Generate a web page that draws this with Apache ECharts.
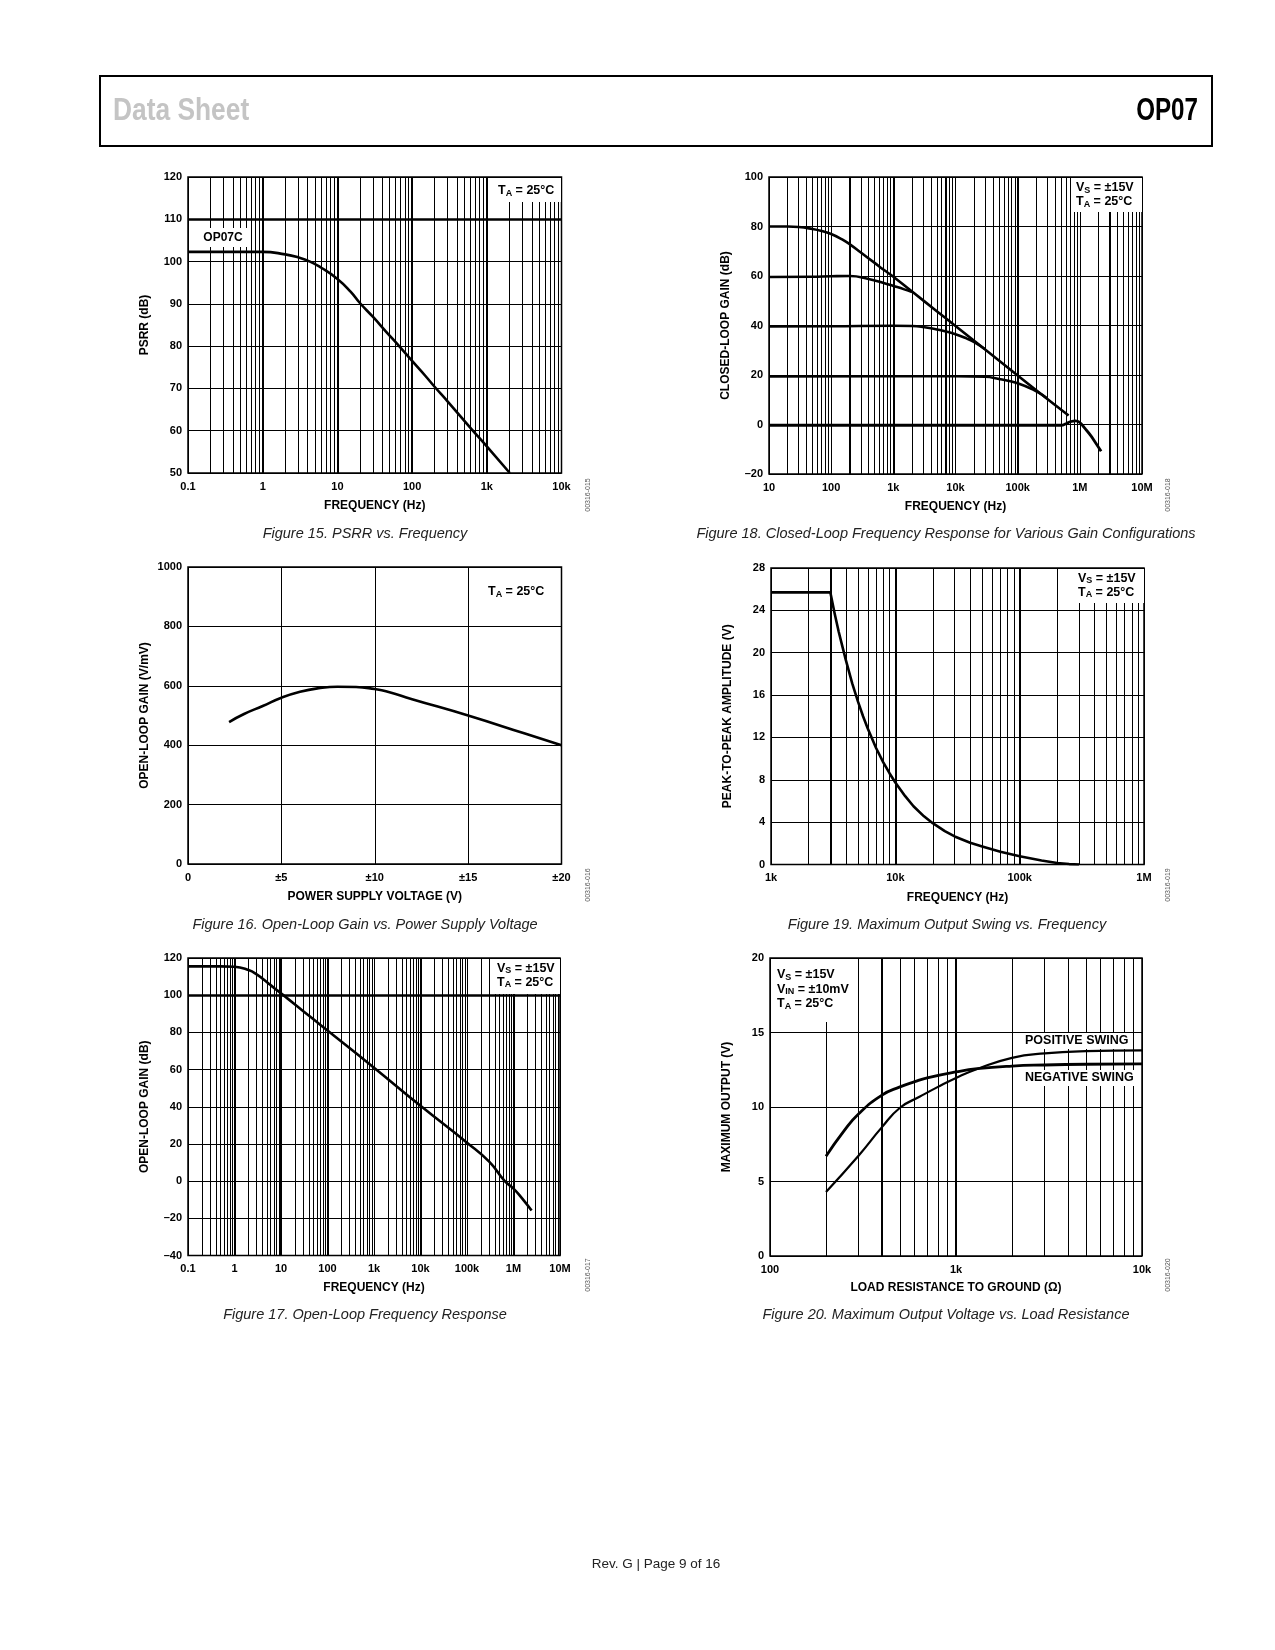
<!DOCTYPE html>
<html><head><meta charset="utf-8">
<script src="https://cdn.jsdelivr.net/npm/echarts@6/dist/echarts.min.js"></script>
<style>html,body{margin:0;padding:0;background:#fff}#c{width:1275px;height:1650px}</style>
</head><body><div id="c"></div>
<script>
// ---------- DATA ----------
// Figure 15: PSRR vs Frequency
const psrrFreq = [0.1, 0.5, 1, 2, 3, 4.3, 6, 10, 15, 20, 30, 45, 68, 100, 150, 200, 300, 624, 1000, 2032];
const psrrDb   = [102.3, 102.3, 102.3, 101.7, 101, 100, 98.6, 95.9, 92.9, 90.2, 86.9, 83.4, 79.9, 76.5, 73, 70.4, 66.9, 60.4, 56.3, 50];
const psrrXLabels = ['0.1', '1', '10', '100', '1k', '10k'];
const psrrYLabels = ['50', '60', '70', '80', '90', '100', '110', '120'];

// Figure 18: Closed-loop gain
const cl80Freq = [10, 20, 30, 50, 70, 100, 150, 200, 300, 500, 700, 1000, 2000, 5000, 10000, 30000, 100000, 300000, 660000];
const cl80Db   = [80, 80, 79.8, 79, 78.2, 77, 74.8, 72.8, 69.5, 65.3, 62.5, 59.7, 53.7, 45.8, 39.8, 30.3, 19.8, 10.3, 3.6];
const cl60Freq = [10, 50, 100, 200, 400, 700, 1000, 1500, 2000];
const cl60Db   = [59.6, 59.7, 59.9, 60, 58.8, 57.2, 56, 54.6, 53.5];
const cl40Freq = [10, 100, 1000, 2000, 3000, 5000, 7000, 10000, 15000, 20000, 30000];
const cl40Db   = [39.6, 39.7, 39.9, 39.8, 39.4, 38.4, 37.6, 36.5, 34.8, 33.3, 30.4];
const cl20Freq = [10, 1000, 10000, 30000, 50000, 100000, 200000, 300000];
const cl20Db   = [19.4, 19.5, 19.5, 19.3, 18.4, 16.7, 13.4, 10.5];
const cl0Freq  = [10, 1000, 100000, 500000, 600000, 700000, 850000, 1000000, 1200000, 1500000, 1800000, 2200000];
const cl0Db    = [-0.3, -0.3, -0.3, -0.3, 0.3, 1.1, 1.5, 0.8, -1.5, -4.5, -7.5, -10.8];
const clXLabels = ['10', '100', '1k', '10k', '100k', '1M', '10M'];
const clYLabels = ['\u201320', '0', '20', '40', '60', '80', '100'];

// Figure 16: Open-loop gain vs supply voltage
const olvVolt = [2.2, 3, 4, 5, 6, 7, 8, 9, 10, 10.6, 12, 15, 18, 20];
const olvGain = [478, 505, 532, 560, 580, 592, 597, 596, 589, 582, 555, 500, 440, 400];
const olvXLabels = ['0', '\u00b15', '\u00b110', '\u00b115', '\u00b120'];
const olvYLabels = ['0', '200', '400', '600', '800', '1000'];

// Figure 19: Maximum output swing vs frequency
const swFreq = [1000, 2000, 3000, 3250, 3500, 3750, 4000, 4500, 5000, 5500, 6000, 7000, 8000, 9000, 10000, 12000, 14000, 17000, 20000, 25000, 30000, 40000, 50000, 70000, 100000, 150000, 200000, 250000, 300000];
const swVpp  = [25.7, 25.7, 25.7, 23.7, 22.0, 20.6, 19.3, 17.1, 15.4, 14.0, 12.85, 11.0, 9.65, 8.6, 7.75, 6.45, 5.5, 4.55, 3.9, 3.15, 2.65, 2.05, 1.7, 1.2, 0.78, 0.38, 0.14, 0.04, 0];
const swXLabels = ['1k', '10k', '100k', '1M'];
const swYLabels = ['0', '4', '8', '12', '16', '20', '24', '28'];

// Figure 17: Open-loop frequency response
const olFreq = [0.1, 0.5, 1, 2, 3, 5, 7, 10, 20, 50, 100, 1000, 10000, 100000, 300000, 650000, 1000000, 1500000, 2450000];
const olDb   = [115.5, 115.5, 115.3, 113.5, 111.2, 107, 104, 101, 95, 87, 81, 61, 40.5, 20.7, 10.5, 0, -4, -9, -15.8];
const olXLabels = ['0.1', '1', '10', '100', '1k', '10k', '100k', '1M', '10M'];
const olYLabels = ['\u201340', '\u201320', '0', '20', '40', '60', '80', '100', '120'];

// Figure 20: Maximum output voltage vs load resistance
const negLoad = [200, 250, 300, 400, 500, 600, 700, 1000, 1300, 2000, 3000, 5000, 10000];
const negSwing = [6.7, 8.4, 9.55, 10.8, 11.35, 11.7, 11.95, 12.35, 12.57, 12.75, 12.82, 12.87, 12.9];
const posLoad = [200, 300, 400, 500, 640, 800, 1000, 1300, 2000, 3000, 5000, 10000];
const posSwing = [4.3, 6.75, 8.65, 9.95, 10.7, 11.35, 11.95, 12.55, 13.3, 13.6, 13.75, 13.8];
const rlXLabels = ['100', '1k', '10k'];
const rlYLabels = ['0', '5', '10', '15', '20'];

const captions = [
  'Figure 15. PSRR vs. Frequency',
  'Figure 18. Closed-Loop Frequency Response for Various Gain Configurations',
  'Figure 16. Open-Loop Gain vs. Power Supply Voltage',
  'Figure 19. Maximum Output Swing vs. Frequency',
  'Figure 17. Open-Loop Frequency Response',
  'Figure 20. Maximum Output Voltage vs. Load Resistance'
];
const figIds = ['00316-015', '00316-018', '00316-016', '00316-019', '00316-017', '00316-020'];

// ---------- BUILD ----------
const F = '"Liberation Sans", Arial, Helvetica, sans-serif';
const grids = [
  {left: 188, top: 177, width: 373.5, height: 296},
  {left: 769, top: 177, width: 373, height: 297},
  {left: 188, top: 567, width: 373.5, height: 297},
  {left: 771, top: 568, width: 373, height: 296.5},
  {left: 188, top: 958, width: 372, height: 297.5},
  {left: 770, top: 958, width: 372, height: 298}
].map(g => Object.assign({show: true, borderColor: '#000', borderWidth: 1.5, backgroundColor: 'transparent'}, g));

function baseAxis(gi, name, gap) {
  return {
    gridIndex: gi, name: name, nameLocation: 'middle', nameGap: gap,
    axisLine: {show: false, onZero: false}, axisTick: {show: false},
    splitLine: {show: true, lineStyle: {color: '#000', width: 1}},
    axisLabel: {color: '#000', fontFamily: F, fontWeight: 'bold', fontSize: 11, showMinLabel: true, showMaxLabel: true},
    nameTextStyle: {color: '#000', fontFamily: F, fontWeight: 'bold', fontSize: 12}
  };
}
function logX(gi, min, max, labels, name, gap) {
  const a = baseAxis(gi, name, gap);
  a.type = 'log'; a.logBase = 10; a.min = min; a.max = max; a.splitNumber = labels.length - 1;
  a.axisLabel.margin = 8;
  a.axisLabel.formatter = v => { const i = Math.round(Math.log10(v / min)); return labels[i] !== undefined ? labels[i] : ''; };
  return a;
}
function valAxis(gi, min, max, interval, labels, name, gap, isX) {
  const a = baseAxis(gi, name, gap);
  a.type = 'value'; a.min = min; a.max = max; a.interval = interval;
  a.axisLabel.margin = isX ? 8 : 6;
  a.axisLabel.formatter = v => { const i = Math.round((v - min) / interval); return labels[i] !== undefined ? labels[i] : ''; };
  return a;
}
function minors(min, max) {
  const out = [];
  for (let e = Math.round(Math.log10(min)); e < Math.round(Math.log10(max)); e++)
    for (let k = 2; k <= 9; k++) out.push(+(k * Math.pow(10, e)).toPrecision(6));
  return out;
}
function gridLines(gi, xs, ys, thickX, thickY) {
  const data = [];
  xs.forEach(v => data.push({xAxis: v, lineStyle: {width: 1}}));
  (thickX || []).forEach(v => data.push({xAxis: v, lineStyle: {width: 2}}));
  ys.forEach(v => data.push({yAxis: v, lineStyle: {width: 1}}));
  (thickY || []).forEach(v => data.push({yAxis: v, lineStyle: {width: 2.5}}));
  return {
    type: 'line', xAxisIndex: gi, yAxisIndex: gi, data: [], silent: true, z: 1, animation: false,
    markLine: {silent: true, symbol: ['none', 'none'], label: {show: false}, animation: false,
      lineStyle: {color: '#000', width: 1, type: 'solid'}, emphasis: {disabled: true}, data: data}
  };
}
function curve(gi, xs, ys, w, smooth) {
  return {
    type: 'line', xAxisIndex: gi, yAxisIndex: gi, data: xs.map((x, i) => [x, ys[i]]),
    showSymbol: false, symbol: 'none', smooth: smooth, silent: true, z: 5, animation: false,
    lineStyle: {color: '#000', width: w, cap: 'butt', join: 'round'}
  };
}

const xAxes = [
  logX(0, 0.1, 10000, psrrXLabels, 'FREQUENCY (Hz)', 27),
  logX(1, 10, 1e7, clXLabels, 'FREQUENCY (Hz)', 27),
  valAxis(2, 0, 20, 5, olvXLabels, 'POWER SUPPLY VOLTAGE (V)', 27, true),
  logX(3, 1000, 1e6, swXLabels, 'FREQUENCY (Hz)', 27),
  logX(4, 0.1, 1e7, olXLabels, 'FREQUENCY (Hz)', 26),
  logX(5, 100, 10000, rlXLabels, 'LOAD RESISTANCE TO GROUND (\u03a9)', 26)
];
const yAxes = [
  valAxis(0, 50, 120, 10, psrrYLabels, 'PSRR (dB)', 37),
  valAxis(1, -20, 100, 20, clYLabels, 'CLOSED-LOOP GAIN (dB)', 37),
  valAxis(2, 0, 1000, 200, olvYLabels, 'OPEN-LOOP GAIN (V/mV)', 37),
  valAxis(3, 0, 28, 4, swYLabels, 'PEAK-TO-PEAK AMPLITUDE (V)', 37),
  valAxis(4, -40, 120, 20, olYLabels, 'OPEN-LOOP GAIN (dB)', 37),
  valAxis(5, 0, 20, 5, rlYLabels, 'MAXIMUM OUTPUT (V)', 37)
];

const series = [
  gridLines(0, minors(0.1, 10000), [], [1, 10, 100, 1000], [110]),
  gridLines(1, minors(10, 1e7), [], [200, 1000, 7000, 100000, 3000000], []),
  gridLines(3, minors(1000, 1e6), [], [3000, 10000, 100000], []),
  gridLines(4, minors(0.1, 1e7), [], [1, 10, 100, 10000, 1000000], [100]),
  gridLines(5, minors(100, 10000), [], [400, 1000], []),
  curve(0, psrrFreq, psrrDb, 2.6, 0.5),
  curve(1, cl80Freq, cl80Db, 2.6, 0.5),
  curve(1, cl60Freq, cl60Db, 2.6, 0.5),
  curve(1, cl40Freq, cl40Db, 2.6, 0.5),
  curve(1, cl20Freq, cl20Db, 2.6, 0.5),
  curve(1, cl0Freq, cl0Db, 2.8, 0.5),
  curve(2, olvVolt, olvGain, 2.6, 0.5),
  curve(3, swFreq, swVpp, 2.6, false),
  curve(4, olFreq, olDb, 2.6, 0.5),
  curve(5, negLoad, negSwing, 2.8, 0.5),
  curve(5, posLoad, posSwing, 2.2, 0.5)
];

// ---------- GRAPHIC (annotations, header, captions) ----------
const rich = {
  b: {fontFamily: F, fontWeight: 'bold', fontSize: 12.5, lineHeight: 14, verticalAlign: 'middle', fill: '#000'},
  s: {fontFamily: F, fontWeight: 'bold', fontSize: 9, lineHeight: 9, verticalAlign: 'bottom', fill: '#000'}
};
const rich20 = {
  b: Object.assign({}, rich.b, {lineHeight: 14.5}),
  s: rich.s
};
function box(x, y, w, h) {
  return {type: 'rect', z: 50, silent: true, shape: {x: x, y: y, width: w, height: h}, style: {fill: '#fff', stroke: null}};
}
function note(x, y, text, r) {
  return {type: 'text', z: 60, silent: true, x: x, y: y, style: {text: text, rich: r || rich, align: 'left', verticalAlign: 'top', fill: '#000'}};
}
function plain(x, y, text, opt, extra) {
  return Object.assign({type: 'text', z: 60, silent: true, x: x, y: y, style: Object.assign({text: text, fontFamily: F, fontWeight: 'bold', fontSize: 12, fill: '#000', align: 'left', verticalAlign: 'middle'}, opt || {})}, extra || {});
}
const VS = '{b|V}{s|S}{b| = \u00b115V}';
const TA = '{b|T}{s|A}{b| = 25\u00b0C}';
const VIN = '{b|V}{s|IN}{b| = \u00b110mV}';

const graphic = [
  // header
  {type: 'rect', silent: true, z: 10, shape: {x: 100, y: 76, width: 1112, height: 70}, style: {fill: 'none', stroke: '#000', lineWidth: 2}},
  plain(113, 111, 'Data Sheet', {fontFamily: F, fontSize: 31, fill: '#c4c4c4'}, {scaleX: 0.85}),
  plain(1198, 111, 'OP07', {fontFamily: F, fontSize: 31, fill: '#000', align: 'right'}, {scaleX: 0.78}),
  // Fig 15
  box(495, 178, 66, 24), note(498, 183.7, TA),
  box(197, 228, 53, 19), plain(223, 238, 'OP07C', {align: 'center'}),
  // Fig 18
  box(1072, 178, 70, 34), note(1076, 180.7, VS + '\n' + TA),
  // Fig 16
  note(488, 584.7, TA),
  // Fig 19
  box(1075, 569, 69, 34), note(1078, 571.3, VS + '\n' + TA),
  // Fig 17
  box(494, 959, 66, 35), note(497, 961.3, VS + '\n' + TA),
  // Fig 20
  box(771, 959, 82, 63), note(777, 967.3, VS + '\n' + VIN + '\n' + TA, rich20),
  box(1021, 1033, 112, 16), plain(1025, 1041, 'POSITIVE SWING', {fontSize: 12.5}),
  box(1021, 1070, 115, 16), plain(1025, 1078, 'NEGATIVE SWING', {fontSize: 12.5}),
  // footer
  plain(656, 1564, 'Rev. G | Page 9 of 16', {fontFamily: F, fontWeight: 'normal', fontSize: 13.5, align: 'center', fill: '#222'})
];
const capPos = [[365, 534], [946, 534], [365, 925], [947, 925], [365, 1315], [946, 1315]];
captions.forEach((c, i) => graphic.push(plain(capPos[i][0], capPos[i][1], c,
  {fontFamily: F, fontWeight: 'normal', fontStyle: 'italic', fontSize: 14.5, align: 'center', fill: '#222'})));
const idPos = [[588, 495], [1168, 495], [588, 885], [1168, 885], [588, 1275], [1168, 1275]];
figIds.forEach((t, i) => graphic.push({type: 'text', z: 60, silent: true, x: idPos[i][0], y: idPos[i][1], rotation: Math.PI / 2,
  style: {text: t, fontFamily: F, fontSize: 7, fill: '#555', align: 'center', verticalAlign: 'middle'}}));

const chart = echarts.init(document.getElementById('c'), null, {renderer: 'canvas'});
chart.setOption({
  animation: false,
  backgroundColor: '#fff',
  grid: grids,
  xAxis: xAxes,
  yAxis: yAxes,
  series: series,
  graphic: graphic
});
</script>
</body></html>
